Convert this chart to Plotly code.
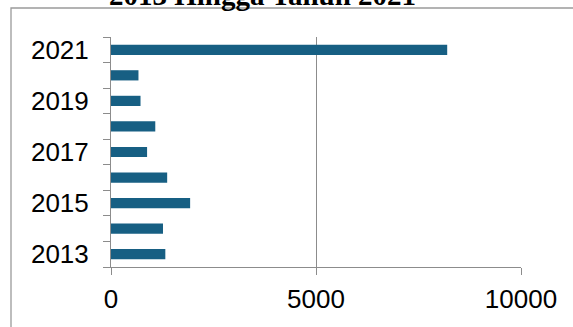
import plotly.graph_objects as go

years = [2013, 2014, 2015, 2016, 2017, 2018, 2019, 2020, 2021]
values = [1325, 1268, 1930, 1370, 880, 1080, 720, 670, 8200]
label_years = [2013, 2015, 2017, 2019, 2021]
x_ticks = [0, 5000, 10000]
title_text = "2013 Hingga Tahun 2021"

W, H = 573, 327
L, R, T, B = 111, 52, 37, 60
PW, PH = W - L - R, H - T - B

fig = go.Figure()
fig.add_trace(go.Bar(
    x=values, y=years, orientation="h", width=0.4,
    marker=dict(color="#175f83", line=dict(width=0)),
))

fig.update_layout(
    width=W, height=H,
    margin=dict(l=L, r=R, t=T, b=B, pad=0, autoexpand=False),
    paper_bgcolor="white", plot_bgcolor="white",
    showlegend=False,
    font=dict(family="Liberation Sans, Arial", size=26, color="black"),
)

fig.update_xaxes(
    range=[0, 10000], tickvals=x_ticks, ticktext=[str(v) for v in x_ticks],
    showgrid=True, gridcolor="#8c8c8c", gridwidth=1,
    showline=True, linecolor="#8c8c8c", linewidth=1,
    ticks="outside", ticklen=7, tickcolor="#8c8c8c", automargin=False,
    zeroline=False, tickfont=dict(size=26), ticklabelstandoff=2,
)
fig.update_yaxes(
    range=[2012.5, 2021.5], tickvals=label_years,
    ticktext=[str(v) for v in label_years], automargin=False,
    showgrid=False, showline=True, linecolor="#8c8c8c", linewidth=1,
    ticks="", zeroline=False, tickfont=dict(size=26), ticklabelstandoff=16,
    minor=dict(tick0=2012.5, dtick=1, ticks="outside", ticklen=7,
               tickcolor="#8c8c8c", showgrid=False),
)

# outer chart border (extends beyond the visible page)
fig.add_shape(type="rect", xref="paper", yref="paper",
              x0=(11 - L) / PW, x1=(W + 20 - L) / PW,
              y0=-(B + 20) / PH, y1=(H - 8 - B) / PH,
              line=dict(color="#9a9a9a", width=1.3), fillcolor="rgba(0,0,0,0)",
              layer="below")

# title, mostly cut off at the top edge as in the reference
fig.add_annotation(
    text="<b>" + title_text + "</b>", xref="paper", yref="paper",
    x=(262 - L) / PW, y=(H - B - 12.5) / PH,
    xanchor="center", yanchor="bottom", showarrow=False,
    font=dict(family="Liberation Serif, Times New Roman", size=29, color="black"),
)

fig.write_html("out.html")
